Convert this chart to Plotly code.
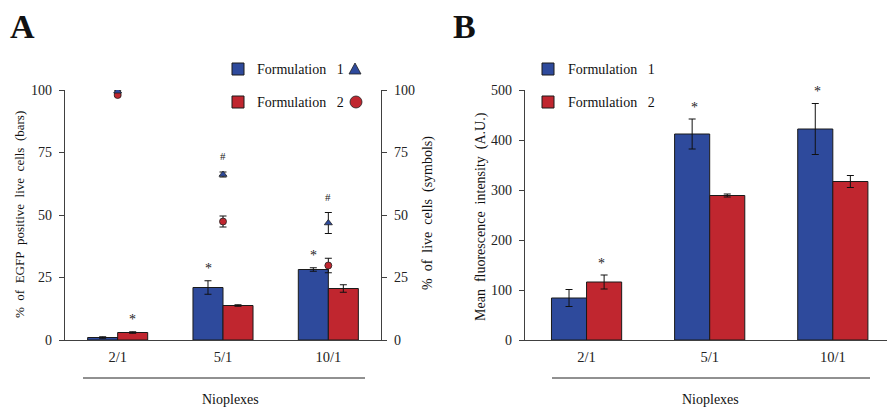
import plotly.graph_objects as go

W, H = 887, 408

categories = ["2/1", "5/1", "10/1"]

# Panel A: % EGFP positive live cells (bars)
a_f1 = [1.0, 21.0, 28.2]
a_f1_err = [0.3, 2.7, 0.7]
a_f2 = [3.0, 13.8, 20.6]
a_f2_err = [0.3, 0.3, 1.5]
# Panel A: % live cells (symbols)
a_live_f1 = [99.5, 66.2, 46.8]
a_live_f1_err = [0.4, 1.0, 4.2]
a_live_f2 = [98.0, 47.4, 29.8]
a_live_f2_err = [0.5, 2.2, 2.9]

# Panel B: mean fluorescence intensity
b_f1 = [84, 412, 422]
b_f1_err = [17, 30, 51]
b_f2 = [116, 289, 317]
b_f2_err = [14, 3, 12]

# significance marks: (category index, series)
a_stars = [(0, "f2"), (1, "f1"), (2, "f1")]
a_hash = [1, 2]
b_stars = [(0, "f2"), (1, "f1"), (2, "f1")]

BLUE = "#2E4A9C"
RED = "#C0262F"
AX = "#404040"
FONT = "Liberation Serif, Times New Roman, serif"

xi = [0, 1, 2]

def px_x(p):
    return p / W

def px_y(p):
    return 1 - p / H

fig = go.Figure()

errstyle = dict(type="data", thickness=1, width=3.5, color="#111")
barline = dict(color="#1a1a1a", width=1)

# Panel A bars
fig.add_trace(go.Bar(x=xi, y=a_f1, error_y=dict(array=a_f1_err, **errstyle),
                     marker=dict(color=BLUE, line=barline),
                     xaxis="x", yaxis="y", showlegend=False, name="Formulation 1"))
fig.add_trace(go.Bar(x=xi, y=a_f2, error_y=dict(array=a_f2_err, **errstyle),
                     marker=dict(color=RED, line=barline),
                     xaxis="x", yaxis="y", showlegend=False, name="Formulation 2"))
# Panel A symbols
fig.add_trace(go.Scatter(x=xi, y=a_live_f2, mode="markers",
                         error_y=dict(array=a_live_f2_err, **errstyle),
                         marker=dict(symbol="circle", size=7, color=RED,
                                     line=dict(color="#222", width=0.8)),
                         xaxis="x", yaxis="y3", showlegend=False))
fig.add_trace(go.Scatter(x=xi, y=a_live_f1, mode="markers",
                         error_y=dict(array=a_live_f1_err, **errstyle),
                         marker=dict(symbol="triangle-up", size=7, color=BLUE,
                                     line=dict(color="#222", width=0.8)),
                         xaxis="x", yaxis="y3", showlegend=False))

# Panel B bars
fig.add_trace(go.Bar(x=xi, y=b_f1, error_y=dict(array=b_f1_err, **errstyle),
                     marker=dict(color=BLUE, line=barline),
                     xaxis="x2", yaxis="y2", showlegend=False))
fig.add_trace(go.Bar(x=xi, y=b_f2, error_y=dict(array=b_f2_err, **errstyle),
                     marker=dict(color=RED, line=barline),
                     xaxis="x2", yaxis="y2", showlegend=False))

tickfont = dict(family=FONT, size=14, color="#222")

annotations = []
shapes = []

def star_ann(idx, val, xref, yref, ser, text="*", yshift=12, size=14):
    annotations.append(dict(x=idx, y=val, xref=xref, yref=yref, text=text, showarrow=False,
                            xshift=(-15 if ser == "f1" else 15) if ser else 0, yshift=yshift,
                            xanchor="center", yanchor="middle",
                            font=dict(family=FONT, size=size, color="#222")))

for idx, ser in a_stars:
    v = (a_f1 if ser == "f1" else a_f2)[idx] + (a_f1_err if ser == "f1" else a_f2_err)[idx]
    star_ann(idx, v, "x", "y", ser)
for idx in a_hash:
    v = a_live_f1[idx] + a_live_f1_err[idx]
    star_ann(idx, v, "x", "y3", None, text="#", yshift=16, size=11)
for idx, ser in b_stars:
    v = (b_f1 if ser == "f1" else b_f2)[idx] + (b_f1_err if ser == "f1" else b_f2_err)[idx]
    star_ann(idx, v, "x2", "y2", ser)

def paper_text(x, y, text, size, angle=0, xanchor="center", bold=False):
    annotations.append(dict(x=px_x(x), y=px_y(y), xref="paper", yref="paper",
                            text=f"<b>{text}</b>" if bold else text, textangle=angle,
                            showarrow=False, xanchor=xanchor, yanchor="middle",
                            font=dict(family=FONT, size=size, color="#111")))

# Panel letters
paper_text(8, 26, "A", 34, xanchor="left", bold=True)
paper_text(451, 26, "B", 34, xanchor="left", bold=True)

sp = "\u00a0"
def spaced(s):
    return s.replace(" ", sp + sp)

# Axis titles
paper_text(19, 215, spaced("% of EGFP positive live cells (bars)"), 13, angle=-90)
paper_text(428, 213, spaced("% of live cells (symbols)"), 14, angle=-90)
paper_text(481, 216, spaced("Mean fluorescence intensity (A.U.)"), 14, angle=-90)

# Nioplexes
for cx in (231, 710):
    paper_text(cx, 399, "Nioplexes", 14)
for x0, x1 in ((83, 365), (552, 870)):
    shapes.append(dict(type="line", xref="paper", yref="paper", x0=px_x(x0), x1=px_x(x1),
                       y0=px_y(378), y1=px_y(378), line=dict(color="#222", width=1)))

# Legends
def legend_row(sqx, txtx, yc, color, label, sym=None, symx=None, symcolor=None):
    shapes.append(dict(type="rect", xref="paper", yref="paper",
                       x0=px_x(sqx - 6), x1=px_x(sqx + 6), y0=px_y(yc + 6), y1=px_y(yc - 6),
                       fillcolor=color, line=dict(color="#1a1a1a", width=1)))
    paper_text(txtx, yc, label, 14, xanchor="left")
    if sym == "tri":
        shapes.append(dict(type="path", xref="paper", yref="paper",
                           path=f"M {px_x(symx-6)} {px_y(yc+5)} L {px_x(symx+6)} {px_y(yc+5)} L {px_x(symx)} {px_y(yc-6)} Z",
                           fillcolor=symcolor, line=dict(color="#222", width=0.8)))
    elif sym == "circ":
        shapes.append(dict(type="circle", xref="paper", yref="paper",
                           x0=px_x(symx - 6), x1=px_x(symx + 6), y0=px_y(yc + 6), y1=px_y(yc - 6),
                           fillcolor=symcolor, line=dict(color="#222", width=0.8)))

lab1 = "Formulation" + sp + sp + sp + "1"
lab2 = "Formulation" + sp + sp + sp + "2"
legend_row(238, 255, 69, BLUE, lab1, "tri", 355, BLUE)
legend_row(238, 255, 102, RED, lab2, "circ", 356, RED)
legend_row(548, 566, 69, BLUE, lab1)
legend_row(548, 566, 102, RED, lab2)

ydom = [px_y(340), px_y(90)]

common_y = dict(showgrid=False, zeroline=False, showline=True, linecolor=AX, linewidth=1.2,
                ticks="outside", ticklen=5, tickcolor=AX, tickfont=tickfont,
                ticklabelstandoff=4, automargin=False)
common_x = dict(showgrid=False, zeroline=False, showline=True, linecolor=AX, linewidth=1.2,
                ticks="", tickfont=dict(family=FONT, size=14.5, color="#222"),
                tickmode="array", tickvals=xi, ticktext=categories, ticklabelstandoff=3,
                automargin=False)

fig.update_layout(
    width=W, height=H,
    autosize=False,
    margin=dict(l=0, r=0, t=0, b=0, pad=0),
    paper_bgcolor="white", plot_bgcolor="white",
    barmode="group",
    bargap=0.43,
    showlegend=False,
    xaxis=dict(domain=[px_x(65), px_x(381)], range=[-0.5, 2.5], anchor="y", **common_x),
    yaxis=dict(domain=ydom, range=[0, 100], tickvals=[0, 25, 50, 75, 100], anchor="x",
               **common_y),
    yaxis3=dict(range=[0, 100], tickvals=[0, 25, 50, 75, 100], overlaying="y", side="right",
                anchor="x", **common_y),
    xaxis2=dict(domain=[px_x(525), 1.0], range=[-0.5, 2.44], anchor="y2", **common_x),
    yaxis2=dict(domain=ydom, range=[0, 500], tickvals=[0, 100, 200, 300, 400, 500],
                anchor="x2", **common_y),
    annotations=annotations,
    shapes=shapes,
)

fig.write_html("out.html")
